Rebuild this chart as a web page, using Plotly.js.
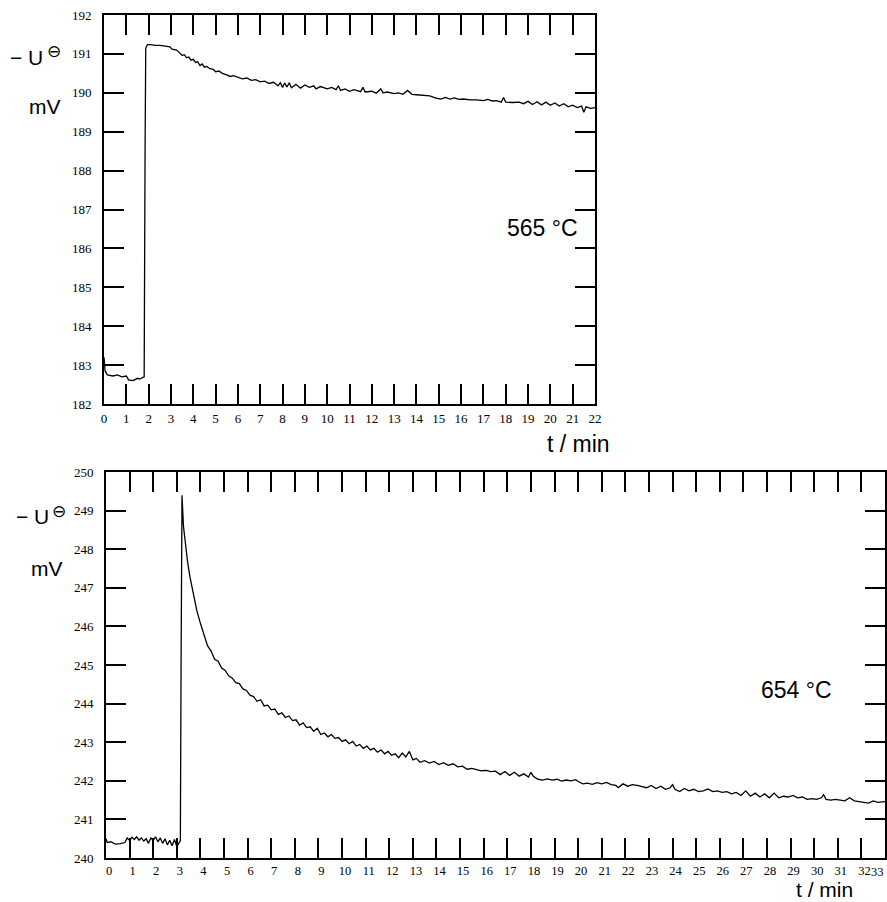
<!DOCTYPE html>
<html>
<head>
<meta charset="utf-8">
<script src="https://cdn.plot.ly/plotly-3.0.1.min.js"></script>
<style>html,body{margin:0;padding:0;background:#fff;}#chart{width:887px;height:902px;}</style>
</head>
<body>
<div id="chart"></div>
<script>
// ---- Data: 565 °C run ----
const topT = [0.00,0.05,0.15,0.40,0.60,0.80,1.00,1.10,1.30,1.50,1.60,1.75,1.80,1.84,1.87,1.95,2.10,2.30,2.50,2.75,2.95,3.05,3.25,3.40,3.50,3.60,3.70,3.80,3.90,4.00,4.10,4.20,4.30,4.40,4.50,4.60,4.75,4.90,5.00,5.15,5.30,5.50,5.65,5.80,6.00,6.20,6.40,6.60,6.80,7.00,7.20,7.40,7.60,7.80,7.90,8.00,8.10,8.20,8.30,8.40,8.60,8.80,9.00,9.20,9.40,9.50,9.70,9.90,10.00,10.20,10.40,10.50,10.60,10.80,11.00,11.20,11.50,11.60,11.70,12.00,12.20,12.40,12.50,12.70,13.00,13.20,13.40,13.60,13.80,14.00,14.30,14.60,14.90,15.10,15.30,15.50,15.70,15.90,16.10,16.40,16.70,17.00,17.20,17.40,17.60,17.80,17.90,18.00,18.30,18.60,18.80,19.00,19.20,19.40,19.60,19.80,20.00,20.20,20.40,20.60,20.80,21.00,21.20,21.40,21.50,21.60,21.80,22.00];
const topU = [183.20,182.85,182.75,182.72,182.75,182.70,182.72,182.62,182.60,182.66,182.64,182.68,182.70,188.50,191.15,191.24,191.24,191.22,191.22,191.20,191.18,191.12,191.10,191.02,190.96,190.98,190.90,190.92,190.84,190.86,190.78,190.80,190.70,190.74,190.66,190.68,190.62,190.60,190.54,190.56,190.50,190.46,190.42,190.44,190.40,190.36,190.38,190.32,190.34,190.28,190.30,190.24,190.27,190.18,190.26,190.14,190.25,190.15,190.26,190.13,190.22,190.12,190.20,190.14,190.18,190.10,190.16,190.12,190.10,190.14,190.08,190.18,190.06,190.10,190.04,190.08,190.03,190.14,190.02,190.04,189.99,190.10,190.00,190.02,189.98,190.00,189.96,190.06,189.96,189.95,189.94,189.92,189.86,189.84,189.88,189.84,189.87,189.83,189.84,189.82,189.82,189.80,189.83,189.79,189.80,189.76,189.88,189.76,189.75,189.76,189.72,189.78,189.70,189.77,189.69,189.76,189.68,189.74,189.66,189.72,189.64,189.68,189.62,189.66,189.50,189.64,189.60,189.62];

// ---- Data: 654 °C run ----
const botT = [0.00,0.05,0.20,0.40,0.60,0.80,0.90,1.00,1.10,1.20,1.30,1.40,1.50,1.60,1.70,1.80,1.90,2.00,2.10,2.20,2.30,2.40,2.50,2.60,2.70,2.80,2.90,3.00,3.10,3.15,3.18,3.22,3.28,3.35,3.45,3.55,3.65,3.75,3.85,4.00,4.15,4.30,4.45,4.60,4.75,4.90,5.05,5.20,5.35,5.50,5.65,5.80,5.95,6.10,6.25,6.40,6.55,6.70,6.85,7.00,7.15,7.30,7.45,7.60,7.75,7.90,8.05,8.20,8.35,8.50,8.65,8.80,8.95,9.10,9.25,9.40,9.55,9.70,9.85,10.00,10.15,10.30,10.45,10.60,10.75,10.90,11.05,11.20,11.35,11.50,11.65,11.80,11.95,12.10,12.25,12.40,12.55,12.70,12.85,13.00,13.15,13.30,13.50,13.70,13.90,14.10,14.30,14.50,14.70,14.90,15.10,15.30,15.50,15.70,15.90,16.10,16.30,16.50,16.70,16.90,17.10,17.30,17.50,17.70,17.90,18.00,18.10,18.30,18.50,18.70,18.90,19.10,19.30,19.50,19.70,19.90,20.00,20.20,20.40,20.60,20.80,21.00,21.20,21.40,21.60,21.70,21.90,22.10,22.30,22.50,22.70,22.90,23.10,23.30,23.50,23.70,23.90,24.00,24.10,24.30,24.50,24.70,24.90,25.10,25.30,25.50,25.70,25.90,26.10,26.30,26.50,26.70,26.90,27.10,27.30,27.50,27.70,27.90,28.10,28.30,28.50,28.70,28.90,29.10,29.30,29.50,29.70,29.90,30.10,30.30,30.40,30.50,30.70,30.90,31.10,31.30,31.50,31.70,31.90,32.10,32.30,32.50,32.70,33.00];
const botU = [240.50,240.40,240.42,240.36,240.37,240.40,240.52,240.45,240.54,240.48,240.55,240.46,240.52,240.44,240.50,240.38,240.52,240.45,240.55,240.42,240.52,240.38,240.50,240.34,240.46,240.32,240.48,240.30,240.40,240.45,245.00,249.40,248.60,248.15,247.70,247.30,247.00,246.70,246.40,246.08,245.80,245.50,245.36,245.15,245.10,244.92,244.86,244.72,244.66,244.54,244.52,244.38,244.34,244.22,244.18,244.06,244.10,243.94,243.96,243.84,243.86,243.72,243.76,243.64,243.68,243.56,243.58,243.44,243.50,243.38,243.40,243.28,243.36,243.20,243.24,243.14,243.20,243.10,243.12,243.02,243.06,242.96,243.02,242.90,242.94,242.84,242.90,242.80,242.84,242.74,242.80,242.70,242.76,242.66,242.70,242.60,242.72,242.62,242.76,242.54,242.58,242.48,242.52,242.46,242.50,242.42,242.47,242.40,242.44,242.36,242.38,242.30,242.32,242.28,242.26,242.27,242.24,242.25,242.16,242.24,242.14,242.22,242.12,242.18,242.10,242.22,242.12,242.04,242.02,242.05,242.02,242.04,241.99,242.02,242.00,242.03,241.98,241.92,241.94,241.91,241.95,241.92,241.96,241.90,241.88,241.82,241.92,241.86,241.90,241.88,241.85,241.82,241.88,241.80,241.86,241.78,241.82,241.90,241.78,241.72,241.80,241.74,241.78,241.72,241.74,241.79,241.72,241.74,241.70,241.72,241.66,241.70,241.62,241.74,241.60,241.68,241.58,241.66,241.56,241.68,241.56,241.60,241.58,241.62,241.56,241.58,241.52,241.54,241.52,241.56,241.64,241.52,241.50,241.52,241.50,241.48,241.56,241.48,241.46,241.44,241.42,241.48,241.44,241.46];

// ---- Tick values / labels ----
const topXTicks = [0,1,2,3,4,5,6,7,8,9,10,11,12,13,14,15,16,17,18,19,20,21,22];
const topYTicks = [182,183,184,185,186,187,188,189,190,191,192];
const botXTicks = [0,1,2,3,4,5,6,7,8,9,10,11,12,13,14,15,16,17,18,19,20,21,22,23,24,25,26,27,28,29,30,31,32,33];
const botXLabels = ['0','1','2','3','4','5','6','7','8','9','10','11','12','13','14','15','16','17','18','19','20','21','22','23','24','25','26','27','28','29','30','31','32',''];
const botXLast = '33';
const botYTicks = [240,241,242,243,244,245,246,247,248,249,250];
const labels = {top: '565 °C', bottom: '654 °C', yvar: '− U', ysym: '⊖', yunit: 'mV', xlab: 't / min'};

const W = 887, H = 902;
const px = v => v / W;
const py = v => 1 - v / H;

const serif = {family: 'Liberation Serif, Times New Roman, serif', size: 13, color: '#000'};
const serifS = {family: 'Liberation Serif, Times New Roman, serif', size: 12.5, color: '#000'};
const sans = {family: 'Liberation Sans, Arial, sans-serif', size: 23, color: '#000'};
const sansB = {family: 'Liberation Sans, Arial, sans-serif', size: 21, color: '#000'};
const sansY = {family: 'Liberation Sans, Arial, sans-serif', size: 21, color: '#000'};
const sym = {family: 'DejaVu Sans, sans-serif', size: 17, color: '#000'};

function axisBase(extra) {
  return Object.assign({
    showgrid: false, zeroline: false,
    showline: true, linecolor: '#000', linewidth: 1.8,
    mirror: 'ticks', ticks: 'inside', ticklen: 20, tickwidth: 2, tickcolor: '#000',
    tickfont: serif, tickmode: 'array', fixedrange: true,
    ticklabeloverflow: 'allow'
  }, extra);
}

const data = [
  {x: topT, y: topU, type: 'scatter', mode: 'lines', xaxis: 'x', yaxis: 'y',
   line: {color: '#000', width: 1.3}, hoverinfo: 'skip'},
  {x: botT, y: botU, type: 'scatter', mode: 'lines', xaxis: 'x2', yaxis: 'y2',
   line: {color: '#000', width: 1.3}, hoverinfo: 'skip'}
];

function ann(x, y, text, font, xanchor, yanchor) {
  return {xref: 'paper', yref: 'paper', x: px(x), y: py(y), xanchor: xanchor || 'center', yanchor: yanchor || 'middle',
          text: text, showarrow: false, font: font, borderpad: 0};
}

const layout = {
  width: W, height: H,
  margin: {l: 0, r: 0, t: 0, b: 0},
  paper_bgcolor: '#fff', plot_bgcolor: '#fff',
  showlegend: false,
  xaxis: axisBase({domain: [px(104), px(595)], range: [0, 22], tickvals: topXTicks, anchor: 'y', ticklabelstandoff: 2}),
  yaxis: axisBase({domain: [py(404), py(15)], range: [182, 192], tickvals: topYTicks, anchor: 'x', ticklabelstandoff: 8}),
  xaxis2: axisBase({domain: [px(106), px(885)], range: [0, 33], tickvals: botXTicks, ticktext: botXLabels, anchor: 'y2', ticklabelstandoff: 0, ticklabelshift: 3, tickfont: serifS}),
  yaxis2: axisBase({domain: [py(858), py(472)], range: [240, 250], tickvals: botYTicks, anchor: 'x2', ticklabelstandoff: 8}),
  annotations: [
    ann(9, 57, labels.yvar, sansY, 'left'),
    ann(46, 51, labels.ysym, sym, 'left'),
    ann(45, 106, labels.yunit, sansY),
    ann(542, 228, labels.top, sans),
    ann(578, 444, labels.xlab, sans),
    ann(15, 516, labels.yvar, sansY, 'left'),
    ann(51, 511, labels.ysym, sym, 'left'),
    ann(47, 568, labels.yunit, sansY),
    ann(796, 690, labels.bottom, sans),
    ann(824, 902, labels.xlab, sansB, 'center', 'bottom'),
    {xref: 'x2', yref: 'paper', x: 33, y: py(872), xanchor: 'right', yanchor: 'middle', text: botXLast,
     showarrow: false, font: serifS, borderpad: 0}
  ]
};

Plotly.newPlot('chart', data, layout, {displayModeBar: false, staticPlot: true});
</script>
</body>
</html>
